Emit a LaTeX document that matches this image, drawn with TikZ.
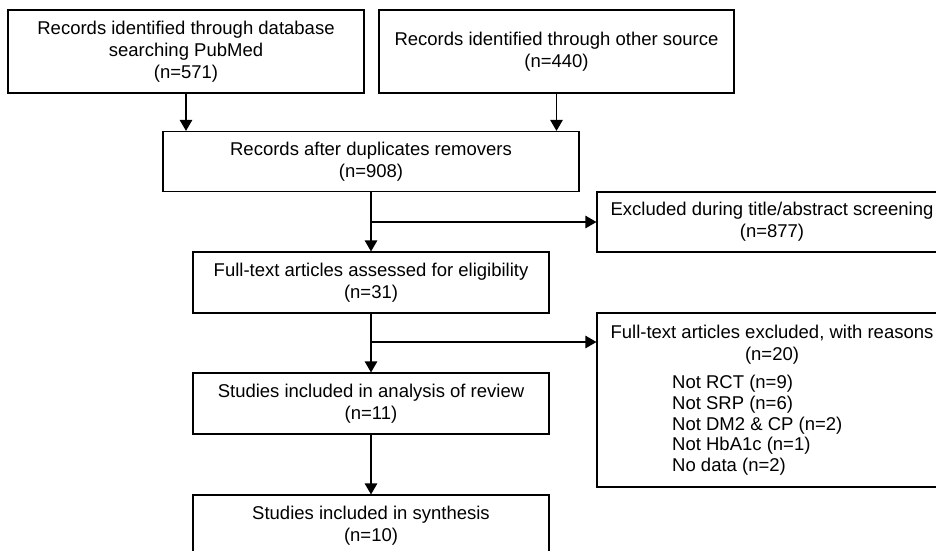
\documentclass[tikz,border=0pt]{standalone}
\usepackage{fontspec}
\setmainfont{Liberation Sans}
\usetikzlibrary{arrows.meta, positioning}

\newcommand{\flowfont}{\fontsize{18.5}{22}\selectfont}
\newcommand{\listfont}{\fontsize{18.5}{20.7}\selectfont}

\begin{document}
\begin{tikzpicture}[x=1pt, y=-1pt, >={Triangle[length=11pt,width=12.5pt]},
    flowbox/.style={draw, line width=1.2pt, inner sep=0pt, align=center, font=\flowfont},
    flowtext/.style={inner sep=0pt, font=\flowfont},
    flowline/.style={line width=1.2pt}]
    \useasboundingbox (0,0) rectangle (936,550);
    % identification
    \node[flowbox, minimum width=356pt, minimum height=83pt] (pubmed) at (186,51.5) {Records identified through database\\searching PubMed\\(n=571)};
    \node[flowbox, minimum width=355pt, minimum height=83pt] (other) at (556.5,51.5) {Records identified through other source\\(n=440)};
    \node[flowbox, minimum width=416pt, minimum height=60pt] (dedup) at (371,161.5) {Records after duplicates removers\\(n=908)};
    % screening
    \node[flowbox, minimum width=350pt, minimum height=60pt] (screenexcl) at (772,222) {Excluded during title/abstract screening\\(n=877)};
    \node[flowbox, minimum width=356pt, minimum height=61pt] (fulltext) at (371,282.5) {Full-text articles assessed for eligibility\\(n=31)};
    \node[flowbox, minimum width=350pt, minimum height=174pt] (fullexcl) at (772,400) {};
    \node[flowtext, anchor=north, align=center] (fullexcltitle) at (772,325) {Full-text articles excluded, with reasons\\(n=20)};
    \node[flowtext, anchor=north west, align=left, font=\listfont] (reasons) at (672,375) {Not RCT (n=9)\\Not SRP (n=6)\\Not DM2 \& CP (n=2)\\Not HbA1c (n=1)\\No data (n=2)};
    % included
    \node[flowbox, minimum width=356pt, minimum height=61pt] (analysis) at (371,403.5) {Studies included in analysis of review\\(n=11)};
    \node[flowbox, minimum width=356pt, minimum height=61pt] (synth) at (371,525.5) {Studies included in synthesis\\(n=10)};

    \draw[flowline, ->] (pubmed.south) -- (pubmed.south |- dedup.north);
    \draw[flowline, ->] (other.south) -- (other.south |- dedup.north);
    \draw[flowline, ->] (dedup.south) -- (fulltext.north);
    \draw[flowline, ->] (dedup.south |- screenexcl.west) -- (screenexcl.west);
    \coordinate (fullsplit) at (371,342);
    \draw[flowline, ->] (fullsplit) -- (fullsplit -| fullexcl.west);
    \draw[flowline, ->] (fulltext.south) -- (analysis.north);
    \draw[flowline, ->] (analysis.south) -- (synth.north);
\end{tikzpicture}
\end{document}
